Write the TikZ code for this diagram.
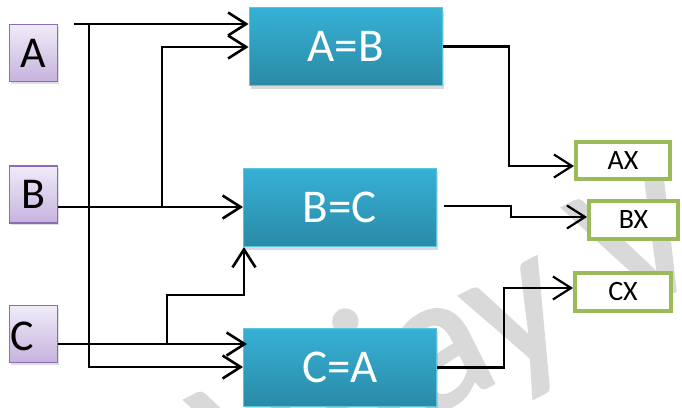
\documentclass[tikz,border=0pt]{standalone}
\usepackage{fontspec}
\setmainfont{Carlito}
\newfontfamily\markfont[FakeBold=1.5]{Carlito}
\usetikzlibrary{arrows.meta,shadows}
\definecolor{tealtop}{HTML}{36B1D6}
\definecolor{tealbot}{HTML}{2A8AA6}
\definecolor{tealedge}{HTML}{5CC3E0}
\definecolor{lavtop}{HTML}{F0EBF8}
\definecolor{lavbot}{HTML}{C6B3DF}
\definecolor{lavedge}{HTML}{8B6DB1}
\definecolor{outgreen}{HTML}{9BBB59}
\definecolor{wmgray}{HTML}{D9D9D9}
\begin{document}
\begin{tikzpicture}[x=1pt,y=-1pt,
  inbox/.style={draw=lavedge, line width=1.5pt, top color=lavtop, bottom color=lavbot,
    minimum width=48pt, minimum height=57pt, inner sep=0pt,
    font=\fontsize{44}{44}\selectfont,
    drop shadow={shadow xshift=1pt, shadow yshift=-2pt, opacity=0.25}},
  gate/.style={draw=tealedge, line width=1pt, top color=tealtop, bottom color=tealbot,
    minimum width=193pt, minimum height=78pt, inner sep=0pt, text=white,
    font=\fontsize{47}{47}\selectfont,
    drop shadow={shadow xshift=1.5pt, shadow yshift=-3pt, opacity=0.3}},
  outbox/.style={draw=outgreen, line width=4pt, fill=white, inner sep=0pt,
    font=\fontsize{28}{28}\selectfont},
  wire/.style={line width=2.6pt, -{Straight Barb[length=18pt,width=23pt]}},
  wireout/.style={line width=2.2pt, -{Straight Barb[length=18pt,width=23pt]}},
  ]
\useasboundingbox (0,0) rectangle (682,407);

% watermark
\begin{scope}
  \clip (0,0) rectangle (682,407);
  \node[rotate=27, text=wmgray, font=\markfont\fontsize{195}{195}\selectfont,
        anchor=base west, inner sep=0pt] (wm) at (241,512) {Vijay V};
\end{scope}

% inputs
\node[inbox] (A) at (33.5,53) {A};
\node[inbox] (B) at (33.5,194.5) {B};
\node[inbox] (C) at (33.5,334) {};
\node[font=\fontsize{44}{44}\selectfont, anchor=west, inner sep=0pt] (Clabel) at (10,336) {C};

% comparators
\node[gate] (AB) at (345.5,46.5) {A=B};
\node[gate] (BC) at (340,207.5) {B=C};
\node[gate] (CA) at (340,367.5) {C=A};

% outputs
\node[outbox, minimum width=94pt, minimum height=37pt] (AX) at (623,160.5) {AX};
\node[outbox, minimum width=89pt, minimum height=38pt] (BX) at (633.5,220) {BX};
\node[outbox, minimum width=96pt, minimum height=38pt] (CX) at (623,292) {CX};

% wires from the inputs
\coordinate (a0) at (74,24);
\coordinate (ja) at (89,24);
\coordinate (jad) at (89,367);
\draw[wire] (a0) -- (a0 -| AB.west);
\draw[wire] (ja) -- (jad) -- (jad -| CA.west);

\coordinate (bs) at ([yshift=-12.5pt]B.east);
\coordinate (jb) at (162,207);
\coordinate (jbu) at (162,47);
\draw[wire] (bs) -- (bs -| BC.west);
\draw[wire] (jb) -- (jbu) -- (jbu -| AB.west);

\coordinate (cs) at ([yshift=-10pt]C.east);
\coordinate (caw) at ([xshift=4pt]CA.west);
\coordinate (jc) at (167,344);
\coordinate (jcu) at (167,295);
\coordinate (jcr) at (244,295);
\draw[wire] (cs) -- (cs -| caw);
\draw[wire] (jc) -- (jcu) -- (jcr) -- (jcr |- BC.south);

% wires to the outputs
\coordinate (o1) at (509,166);
\draw[wireout] (AB.east) -| (o1) -- (o1 -| AX.west);
\coordinate (o2s) at ([xshift=7pt,yshift=1.5pt]BC.east);
\coordinate (o2) at (511,217);
\draw[wireout] (o2s) -| (o2) -- (o2 -| BX.west);
\coordinate (o3) at (504,288);
\draw[wireout] (CA.east) -| (o3) -- (o3 -| CX.west);
\end{tikzpicture}
\end{document}
